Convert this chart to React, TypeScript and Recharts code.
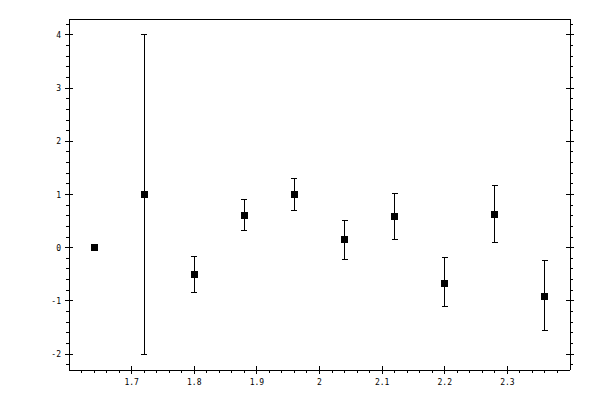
import { ErrorBar, Scatter, ScatterChart, XAxis, YAxis } from "recharts";

const xValues = [1.64, 1.72, 1.8, 1.88, 1.96, 2.04, 2.12, 2.2, 2.28, 2.36];
const yValues = [0, 1.0, -0.5, 0.6, 1.0, 0.15, 0.58, -0.67, 0.62, -0.91];
const upperValues = [0, 4.0, -0.16, 0.9, 1.3, 0.52, 1.01, -0.19, 1.17, -0.25];
const lowerValues = [0, -2.0, -0.84, 0.32, 0.69, -0.23, 0.15, -1.11, 0.09, -1.55];

const xMajorTicks = [1.7, 1.8, 1.9, 2, 2.1, 2.2, 2.3];
const yMajorTicks = [-2, -1, 0, 1, 2, 3, 4];

const round2 = (v: number) => Math.round(v * 100) / 100;
const isMajor = (v: number, step: number) =>
  Math.abs(v / step - Math.round(v / step)) < 1e-6;

// minor ticks every 0.02 on x and 0.2 on y, majors are in the lists above
const xTicks: number[] = [];
for (let i = 81; i <= 119; i++) xTicks.push(round2(i * 0.02));
const yTicks: number[] = [];
for (let i = -11; i <= 21; i++) yTicks.push(round2(i * 0.2));

const rows = xValues.map((x, i) => ({
  x,
  y: yValues[i],
  err: [round2(yValues[i] - lowerValues[i]), round2(upperValues[i] - yValues[i])],
}));

const font = { fontFamily: "DejaVu Sans Mono", fontSize: 8, fill: "#000" };

function BottomTick({ x, y, payload }: any) {
  const v = payload.value;
  if (isMajor(v, 0.1) && xMajorTicks.includes(round2(v))) {
    return (
      <g>
        <line x1={x} x2={x} y1={y - 4} y2={y + 4} stroke="#000" shapeRendering="crispEdges" />
        <text x={x} y={y + 15} textAnchor="middle" {...font}>
          {String(round2(v))}
        </text>
      </g>
    );
  }
  return <line x1={x} x2={x} y1={y} y2={y + 3} stroke="#000" shapeRendering="crispEdges" />;
}

function TopTick({ x, y, payload }: any) {
  const major = isMajor(payload.value, 0.1);
  return (
    <line
      x1={x}
      x2={x}
      y1={y - (major ? 4 : 3)}
      y2={major ? y + 4 : y}
      stroke="#000"
      shapeRendering="crispEdges"
    />
  );
}

function LeftTick({ x, y, payload }: any) {
  const v = payload.value;
  if (isMajor(v, 1) && yMajorTicks.includes(round2(v))) {
    return (
      <g>
        <line x1={x - 4} x2={x + 4} y1={y} y2={y} stroke="#000" shapeRendering="crispEdges" />
        <text x={x - 8} y={y + 3} textAnchor="end" {...font}>
          {String(round2(v))}
        </text>
      </g>
    );
  }
  return <line x1={x - 3} x2={x} y1={y} y2={y} stroke="#000" shapeRendering="crispEdges" />;
}

function RightTick({ x, y, payload }: any) {
  const major = isMajor(payload.value, 1);
  return (
    <line
      x1={major ? x - 4 : x}
      x2={x + (major ? 4 : 3)}
      y1={y}
      y2={y}
      stroke="#000"
      shapeRendering="crispEdges"
    />
  );
}

function SquareDot({ cx, cy }: any) {
  return <rect x={cx - 3.5} y={cy - 3.5} width={7} height={7} fill="#000" shapeRendering="crispEdges" />;
}

const axisLine = { stroke: "#000", shapeRendering: "crispEdges" };

export default function App() {
  return (
    <div style={{ position: "absolute", left: 0, top: 0, width: 600, height: 400, background: "#fff" }}>
      <ScatterChart width={600} height={400} margin={{ top: 0, right: 0, bottom: 0, left: 0 }}>
        <XAxis
          xAxisId="bottom"
          dataKey="x"
          type="number"
          domain={[1.6, 2.4]}
          allowDataOverflow
          ticks={xTicks}
          interval={0}
          height={30}
          tickSize={0}
          tickMargin={0}
          tickLine={false}
          axisLine={axisLine}
          tick={<BottomTick />}
        />
        <XAxis
          xAxisId="top"
          orientation="top"
          type="number"
          domain={[1.6, 2.4]}
          allowDataOverflow
          ticks={xTicks}
          interval={0}
          height={19}
          tickSize={0}
          tickMargin={0}
          tickLine={false}
          axisLine={axisLine}
          tick={<TopTick />}
        />
        <YAxis
          yAxisId="left"
          dataKey="y"
          type="number"
          domain={[-2.3, 4.3]}
          allowDataOverflow
          ticks={yTicks}
          interval={0}
          width={69}
          tickSize={0}
          tickMargin={0}
          tickLine={false}
          axisLine={axisLine}
          tick={<LeftTick />}
        />
        <YAxis
          yAxisId="right"
          orientation="right"
          type="number"
          domain={[-2.3, 4.3]}
          allowDataOverflow
          ticks={yTicks}
          interval={0}
          width={30}
          tickSize={0}
          tickMargin={0}
          tickLine={false}
          axisLine={axisLine}
          tick={<RightTick />}
        />
        <Scatter
          xAxisId="bottom"
          yAxisId="left"
          data={rows}
          shape={<SquareDot />}
          isAnimationActive={false}
        >
          <ErrorBar
            dataKey="err"
            direction="y"
            width={3}
            stroke="#000"
            strokeWidth={1}
            shapeRendering="crispEdges"
            isAnimationActive={false}
          />
        </Scatter>
      </ScatterChart>
    </div>
  );
}
